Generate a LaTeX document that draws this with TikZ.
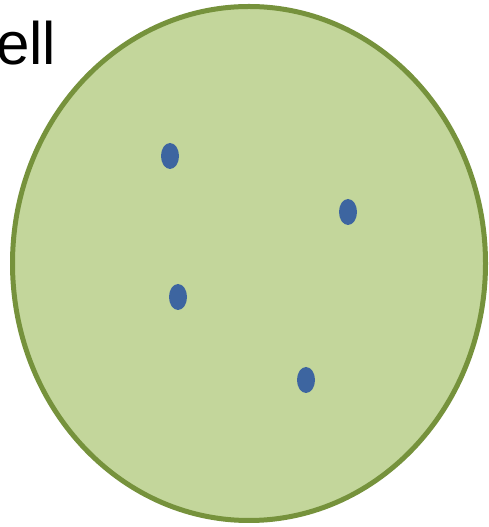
\documentclass[tikz,border=0pt]{standalone}
\usepackage{fontspec}
\setmainfont{Liberation Sans}
\definecolor{cellfill}{HTML}{C3D69B}
\definecolor{cellline}{HTML}{76923C}
\definecolor{dotblue}{HTML}{3D65A0}
\begin{document}
\begin{tikzpicture}[x=1pt,y=1pt,
  cellshape/.style={fill=cellfill,draw=cellline,line width=5pt},
  dotshape/.style={fill=dotblue}]
\useasboundingbox (0,0) rectangle (489,527);
\begin{scope}
\clip (0,0) rectangle (489,527);
\filldraw[cellshape] (249,263.5) ellipse [x radius=236.5, y radius=257];
\coordinate (d1) at (170,371);
\coordinate (d2) at (348,315);
\coordinate (d3) at (178,230);
\coordinate (d4) at (306,147);
\foreach \d in {d1,d2,d3,d4}
  \fill[dotshape] (\d) ellipse [x radius=9, y radius=13];
\node[anchor=base west,inner sep=0,font=\fontsize{60}{72}\selectfont] (label) at (-4,462) {ell};
\end{scope}
\end{tikzpicture}
\end{document}
